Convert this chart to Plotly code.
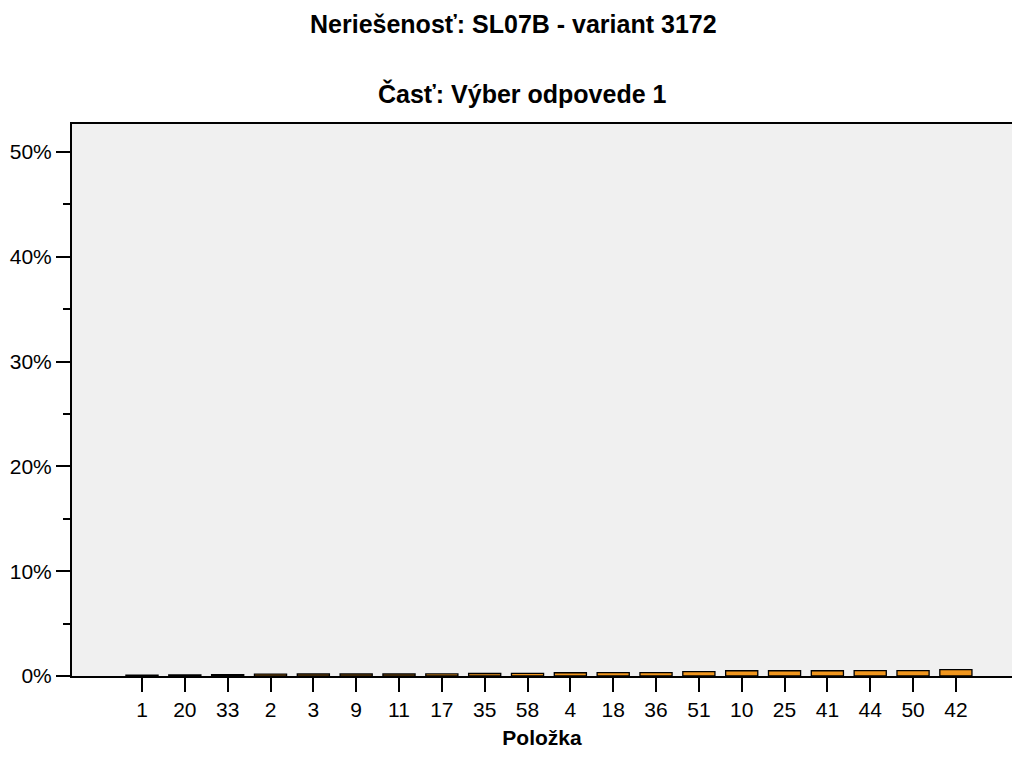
import plotly.graph_objects as go

categories = ["1", "20", "33", "2", "3", "9", "11", "17", "35", "58",
              "4", "18", "36", "51", "10", "25", "41", "44", "50", "42"]
values = [0.08, 0.10, 0.12, 0.18, 0.19, 0.19, 0.19, 0.20, 0.24, 0.25,
          0.31, 0.32, 0.33, 0.42, 0.50, 0.50, 0.50, 0.51, 0.52, 0.60]
y_ticks = [0, 10, 20, 30, 40, 50]
y_tick_labels = ["0%", "10%", "20%", "30%", "40%", "50%"]

W, H = 1012, 760
L, R, T, B = 72, 0, 124, 84

fig = go.Figure(go.Bar(
    x=categories, y=values,
    marker=dict(color="#F0961E", line=dict(color="black", width=1.3)),
    width=0.75,
    hoverinfo="skip",
))

font = "Arial, Liberation Sans, sans-serif"

def px_x(x):
    return (x - L) / (W - L - R)

def px_y(y):
    return (H - B - y) / (H - T - B)

fig.update_layout(
    width=W, height=H,
    margin=dict(l=L, r=R, t=T, b=B),
    paper_bgcolor="white",
    plot_bgcolor="#F0F0F0",
    showlegend=False,
    font=dict(family=font, size=21, color="black"),
    xaxis=dict(
        type="category",
        range=[-1.634, 20.31],
        showline=True, linecolor="black", linewidth=2, mirror=True,
        ticks="outside", ticklen=14, tickwidth=2, tickcolor="black",
        tickfont=dict(size=21, family=font),
        showgrid=False, zeroline=False,
        title=dict(text="<b>Položka</b>", font=dict(size=21, family=font), standoff=10),
    ),
    yaxis=dict(
        range=[0, 52.67],
        tickvals=y_ticks, ticktext=y_tick_labels,
        showline=True, linecolor="black", linewidth=2,
        ticks="outside", ticklen=14, tickwidth=2, tickcolor="black",
        minor=dict(tickvals=[5, 15, 25, 35, 45], ticklen=7, tickwidth=2, tickcolor="black", ticks="outside"),
        tickfont=dict(size=21, family=font),
        showgrid=False, zeroline=False,
    ),
    annotations=[
        dict(text="<b>Neriešenosť: SL07B - variant 3172</b>", xref="paper", yref="paper",
             x=px_x(513), y=px_y(24), showarrow=False, xanchor="center", yanchor="middle",
             font=dict(size=25, family=font)),
        dict(text="<b>Časť: Výber odpovede 1</b>", xref="paper", yref="paper",
             x=px_x(522), y=px_y(94), showarrow=False, xanchor="center", yanchor="middle",
             font=dict(size=25, family=font)),
    ],
)

fig.write_html(
    "out.html",
    config={"displayModeBar": False},
    post_script="document.body.style.margin='0';document.body.style.overflow='hidden';",
)
